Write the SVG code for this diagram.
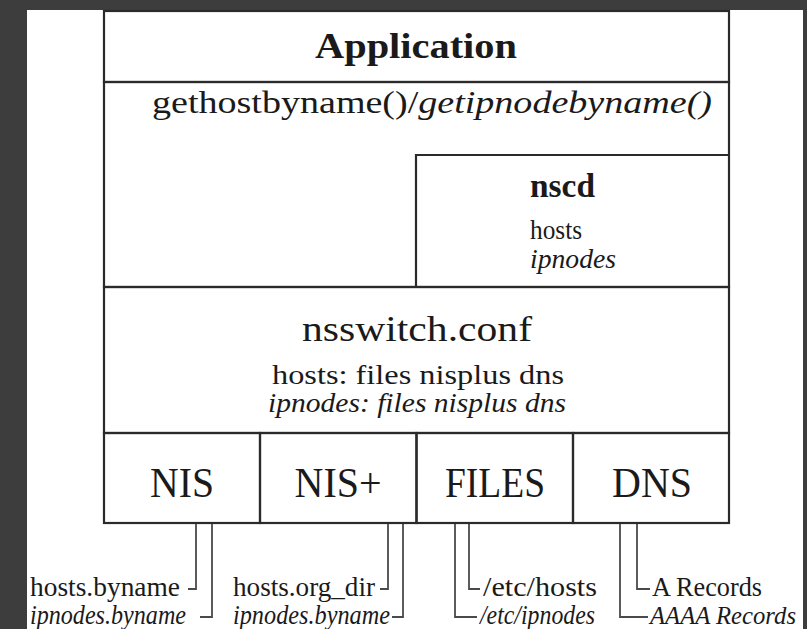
<svg xmlns="http://www.w3.org/2000/svg" width="807" height="629" viewBox="0 0 807 629">
<style>
.t{font-family:"Liberation Serif","Times New Roman",serif;fill:#1a1a1a}
.b{font-weight:bold}
.i{font-style:italic}
.box{fill:none;stroke:#2a2a2a;stroke-width:2.2}
.conn{fill:none;stroke:#4a4a4a;stroke-width:1.8}
</style>
<rect x="0" y="0" width="807" height="629" fill="#3d3d3d"/>
<rect x="27" y="10" width="776" height="619" fill="#ffffff"/>
<g id="application">
<rect class="box" x="104" y="11" width="625" height="71" stroke-width="3"/>
<text class="t b" x="416" y="58" font-size="36" text-anchor="middle" textLength="202" lengthAdjust="spacingAndGlyphs">Application</text>
</g>
<g id="resolver">
<rect class="box" x="104" y="82" width="625" height="205"/>
<text class="t" x="152" y="113" font-size="32" textLength="560" lengthAdjust="spacingAndGlyphs">gethostbyname()/<tspan class="i">getipnodebyname()</tspan></text>
</g>
<g id="nscd">
<path class="box" d="M416 287 V155 H729"/>
<text class="t b" x="530" y="197" font-size="34" textLength="65" lengthAdjust="spacingAndGlyphs">nscd</text>
<text class="t" x="530" y="239" font-size="28" textLength="52" lengthAdjust="spacingAndGlyphs">hosts</text>
<text class="t i" x="530" y="268" font-size="28" textLength="86" lengthAdjust="spacingAndGlyphs">ipnodes</text>
</g>
<g id="nsswitch">
<rect class="box" x="104" y="287" width="625" height="146" stroke-width="2.6"/>
<text class="t" x="417" y="341" font-size="35" text-anchor="middle" textLength="230" lengthAdjust="spacingAndGlyphs">nsswitch.conf</text>
<text class="t" x="418" y="384" font-size="28" text-anchor="middle" textLength="292" lengthAdjust="spacingAndGlyphs">hosts: files nisplus dns</text>
<text class="t i" x="417" y="412" font-size="28" text-anchor="middle" textLength="298" lengthAdjust="spacingAndGlyphs">ipnodes: files nisplus dns</text>
</g>
<g id="nis">
<rect class="box" x="104" y="433" width="156" height="90"/>
<text class="t" x="182" y="497" font-size="42" text-anchor="middle" textLength="64" lengthAdjust="spacingAndGlyphs">NIS</text>
</g>
<g id="nisplus">
<rect class="box" x="260" y="433" width="156.5" height="90"/>
<text class="t" x="338" y="497" font-size="42" text-anchor="middle" textLength="87" lengthAdjust="spacingAndGlyphs">NIS+</text>
</g>
<g id="files">
<rect class="box" x="416.5" y="433" width="156.5" height="90"/>
<text class="t" x="495" y="497" font-size="42" text-anchor="middle" textLength="100" lengthAdjust="spacingAndGlyphs">FILES</text>
</g>
<g id="dns">
<rect class="box" x="573" y="433" width="156" height="90"/>
<text class="t" x="652" y="497" font-size="42" text-anchor="middle" textLength="80" lengthAdjust="spacingAndGlyphs">DNS</text>
</g>
<g id="connectors">
<path class="conn" d="M196 524 V589 H188"/>
<path class="conn" d="M212 524 V617 H200"/>
<path class="conn" d="M388 524 V589 H380"/>
<path class="conn" d="M403 524 V617 H392"/>
<path class="conn" d="M469 524 V589 H480"/>
<path class="conn" d="M455 524 V617 H477"/>
<path class="conn" d="M637 524 V589 H650"/>
<path class="conn" d="M620 524 V617 H648"/>
</g>
<g id="labels">
<text class="t" x="30" y="596" font-size="28" textLength="150" lengthAdjust="spacingAndGlyphs">hosts.byname</text>
<text class="t i" x="30" y="624" font-size="28" textLength="156" lengthAdjust="spacingAndGlyphs">ipnodes.byname</text>
<text class="t" x="233" y="596" font-size="28" textLength="142" lengthAdjust="spacingAndGlyphs">hosts.org_dir</text>
<text class="t i" x="233" y="624" font-size="28" textLength="157" lengthAdjust="spacingAndGlyphs">ipnodes.byname</text>
<text class="t" x="483" y="596" font-size="28" textLength="114" lengthAdjust="spacingAndGlyphs">/etc/hosts</text>
<text class="t i" x="480" y="624" font-size="28" textLength="115" lengthAdjust="spacingAndGlyphs">/etc/ipnodes</text>
<text class="t" x="652" y="596" font-size="28" textLength="110" lengthAdjust="spacingAndGlyphs">A Records</text>
<text class="t i" x="650" y="624" font-size="26" textLength="146" lengthAdjust="spacingAndGlyphs">AAAA Records</text>
</g>
</svg>
